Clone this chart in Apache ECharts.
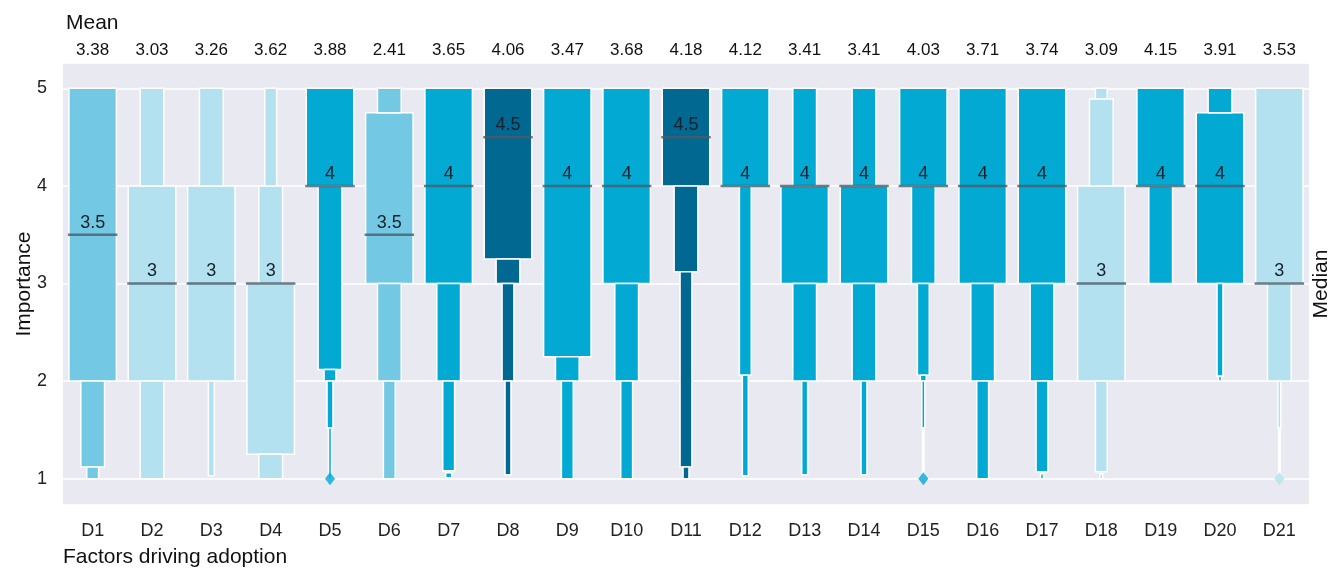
<!DOCTYPE html>
<html>
<head>
<meta charset="utf-8">
<title>Factors driving adoption</title>
<script src="https://cdn.jsdelivr.net/npm/echarts@6/dist/echarts.min.js"></script>
<style>
    html, body { margin: 0; padding: 0; background: #fff; }
    #chart { width: 1342px; height: 568px; }
</style>
</head>
<body>
<div id="chart"></div>
<script>
const factors = ['D1', 'D2', 'D3', 'D4', 'D5', 'D6', 'D7', 'D8', 'D9', 'D10', 'D11',
    'D12', 'D13', 'D14', 'D15', 'D16', 'D17', 'D18', 'D19', 'D20', 'D21'];
const means = [3.38, 3.03, 3.26, 3.62, 3.88, 2.41, 3.65, 4.06, 3.47, 3.68, 4.18,
    4.12, 3.41, 3.41, 4.03, 3.71, 3.74, 3.09, 4.15, 3.91, 3.53];
const medians = [3.5, 3, 3, 3, 4, 3.5, 4, 4.5, 4, 4, 4.5,
    4, 4, 4, 4, 4, 4, 3, 4, 4, 3];

// letter-value boxes for each factor: [low, high, level]
const letterBoxes = [
    [[2, 5, 0], [1.12, 2, 1], [1, 1.12, 2]],
    [[2, 4, 0], [4, 5, 1], [1, 2, 1]],
    [[2, 4, 0], [4, 5, 1], [1.03, 2, 3]],
    [[1.25, 3, 0], [3, 4, 1], [4, 5, 2], [1, 1.25, 1]],
    [[4, 5, 0], [2.12, 4, 1], [2, 2.12, 2], [1.52, 2, 3], [1, 1.52, 4]],
    [[3, 4.75, 0], [4.75, 5, 1], [2, 3, 1], [1, 2, 2]],
    [[3, 5, 0], [2, 3, 1], [1.08, 2, 2], [1.01, 1.06, 3]],
    [[3.25, 5, 0], [3, 3.25, 1], [2, 3, 2], [1.04, 2, 3]],
    [[2.25, 5, 0], [2, 2.25, 1], [1, 2, 2]],
    [[3, 5, 0], [2, 3, 1], [1, 2, 2]],
    [[4, 5, 0], [3.12, 4, 1], [1.12, 3.12, 2], [1, 1.12, 3]],
    [[4, 5, 0], [2.06, 4, 2], [1.03, 2.06, 3]],
    [[3, 4, 0], [4, 5, 1], [2, 3, 1], [1.04, 2, 3]],
    [[3, 4, 0], [4, 5, 1], [2, 3, 1], [1.04, 2, 3]],
    [[4, 5, 0], [3, 4, 1], [2.06, 3, 2], [2, 2.06, 3], [1.52, 2, 4], [1, 1.52, 5]],
    [[3, 5, 0], [2, 3, 1], [1, 2, 2]],
    [[3, 5, 0], [2, 3, 1], [1.07, 2, 2], [1, 1.05, 4]],
    [[2, 4, 0], [4, 4.89, 1], [4.89, 5, 2], [1.07, 2, 2], [1, 1.05, 4]],
    [[4, 5, 0], [3, 4, 1]],
    [[3, 4.75, 0], [4.75, 5, 1], [2.05, 3, 3], [2, 2.05, 4]],
    [[3, 5, 0], [2, 3, 1], [1.52, 2, 4], [1, 1.52, 5]]
];

// outliers: [factor index, value]
const outliers = [[4, 1], [14, 1], [20, 1]];

const medianColors = { 3: '#b3e1ef', 3.5: '#73c8e4', 4: '#02a9d3', 4.5: '#006891' };
const font = '"Liberation Sans", Arial, sans-serif';

const chartInit = () => {
    var chartDom = document.getElementById('chart');
    var myChart = echarts.init(chartDom, null, { renderer: 'canvas' });
    var option;

    var boxData = [];
    letterBoxes.forEach(function (boxes, i) {
        boxes.forEach(function (b) {
            boxData.push([i, b[0], b[1], b[2]]);
        });
    });

    var boxWidth = function (api, level) {
        return api.size([1, 0])[0] * 0.8 * Math.pow(0.5, level);
    };

    option = {
        animation: false,
        grid: {
            left: 63,
            right: 33,
            top: 63,
            bottom: 63,
            show: true,
            backgroundColor: '#e9e9f1',
            borderWidth: 0
        },
        xAxis: [{
            type: 'category',
            data: factors,
            axisLine: { show: false },
            axisTick: { show: false },
            axisLabel: { fontSize: 18, color: '#222', margin: 17, fontFamily: font }
        }, {
            type: 'category',
            position: 'top',
            data: means.map(function (m) { return m.toFixed(2); }),
            axisLine: { show: false },
            axisTick: { show: false },
            axisLabel: { fontSize: 17, color: '#111', margin: 4, fontFamily: font }
        }],
        yAxis: {
            type: 'value',
            min: 0.73,
            max: 5.26,
            splitNumber: 5,
            axisLine: { show: false },
            axisTick: { show: false },
            axisLabel: {
                fontSize: 18,
                color: '#222',
                margin: 16,
                fontFamily: font,
                showMinLabel: false,
                showMaxLabel: false,
                formatter: function (v) {
                    return Math.abs(v - Math.round(v)) < 1e-6 ? String(Math.round(v)) : '';
                }
            },
            splitLine: { lineStyle: { color: '#ffffff', width: 1.5 } }
        },
        graphic: [
            { type: 'text', left: 66, top: 13, style: { text: 'Mean', font: '21px ' + font, fill: '#111' } },
            { type: 'text', left: 63, top: 547, style: { text: 'Factors driving adoption', font: '21px ' + font, fill: '#111' } },
            { type: 'text', x: 24, y: 284, rotation: Math.PI / 2,
                style: { text: 'Importance', font: '21px ' + font, fill: '#111', align: 'center', verticalAlign: 'middle' } },
            { type: 'text', x: 1321, y: 284, rotation: Math.PI / 2,
                style: { text: 'Median', font: '21px ' + font, fill: '#111', align: 'center', verticalAlign: 'middle' } }
        ],
        series: [{
            type: 'custom',
            name: 'Letter values',
            data: boxData,
            encode: { x: 0, y: [1, 2] },
            renderItem: function (params, api) {
                var i = api.value(0);
                var cx = api.coord([i, 0])[0];
                var yLow = api.coord([i, api.value(1)])[1];
                var yHigh = api.coord([i, api.value(2)])[1];
                var w = boxWidth(api, api.value(3));
                return {
                    type: 'rect',
                    shape: { x: cx - w / 2, y: yHigh, width: w, height: yLow - yHigh },
                    style: { fill: medianColors[medians[i]], stroke: '#ffffff', lineWidth: 1.5 }
                };
            }
        }, {
            type: 'custom',
            name: 'Median',
            data: medians.map(function (m, i) { return [i, m]; }),
            encode: { x: 0, y: 1 },
            renderItem: function (params, api) {
                var i = api.value(0);
                var m = api.value(1);
                var pt = api.coord([i, m]);
                var w = boxWidth(api, 0) + 2;
                return {
                    type: 'group',
                    children: [{
                        type: 'line',
                        shape: { x1: pt[0] - w / 2, y1: pt[1], x2: pt[0] + w / 2, y2: pt[1] },
                        style: { stroke: 'rgba(72, 92, 104, 0.8)', lineWidth: 2.5 }
                    }, {
                        type: 'text',
                        x: pt[0],
                        y: pt[1] - 3,
                        style: {
                            text: String(m),
                            font: '18px ' + font,
                            fill: '#15222b',
                            align: 'center',
                            verticalAlign: 'bottom'
                        }
                    }]
                };
            }
        }, {
            type: 'scatter',
            name: 'Outliers',
            data: outliers,
            symbol: 'diamond',
            symbolSize: [10, 13],
            itemStyle: {
                color: function (p) { return medianColors[medians[p.value[0]]]; }
            }
        }]
    };

    option && myChart.setOption(option);
};

chartInit();
</script>
</body>
</html>
